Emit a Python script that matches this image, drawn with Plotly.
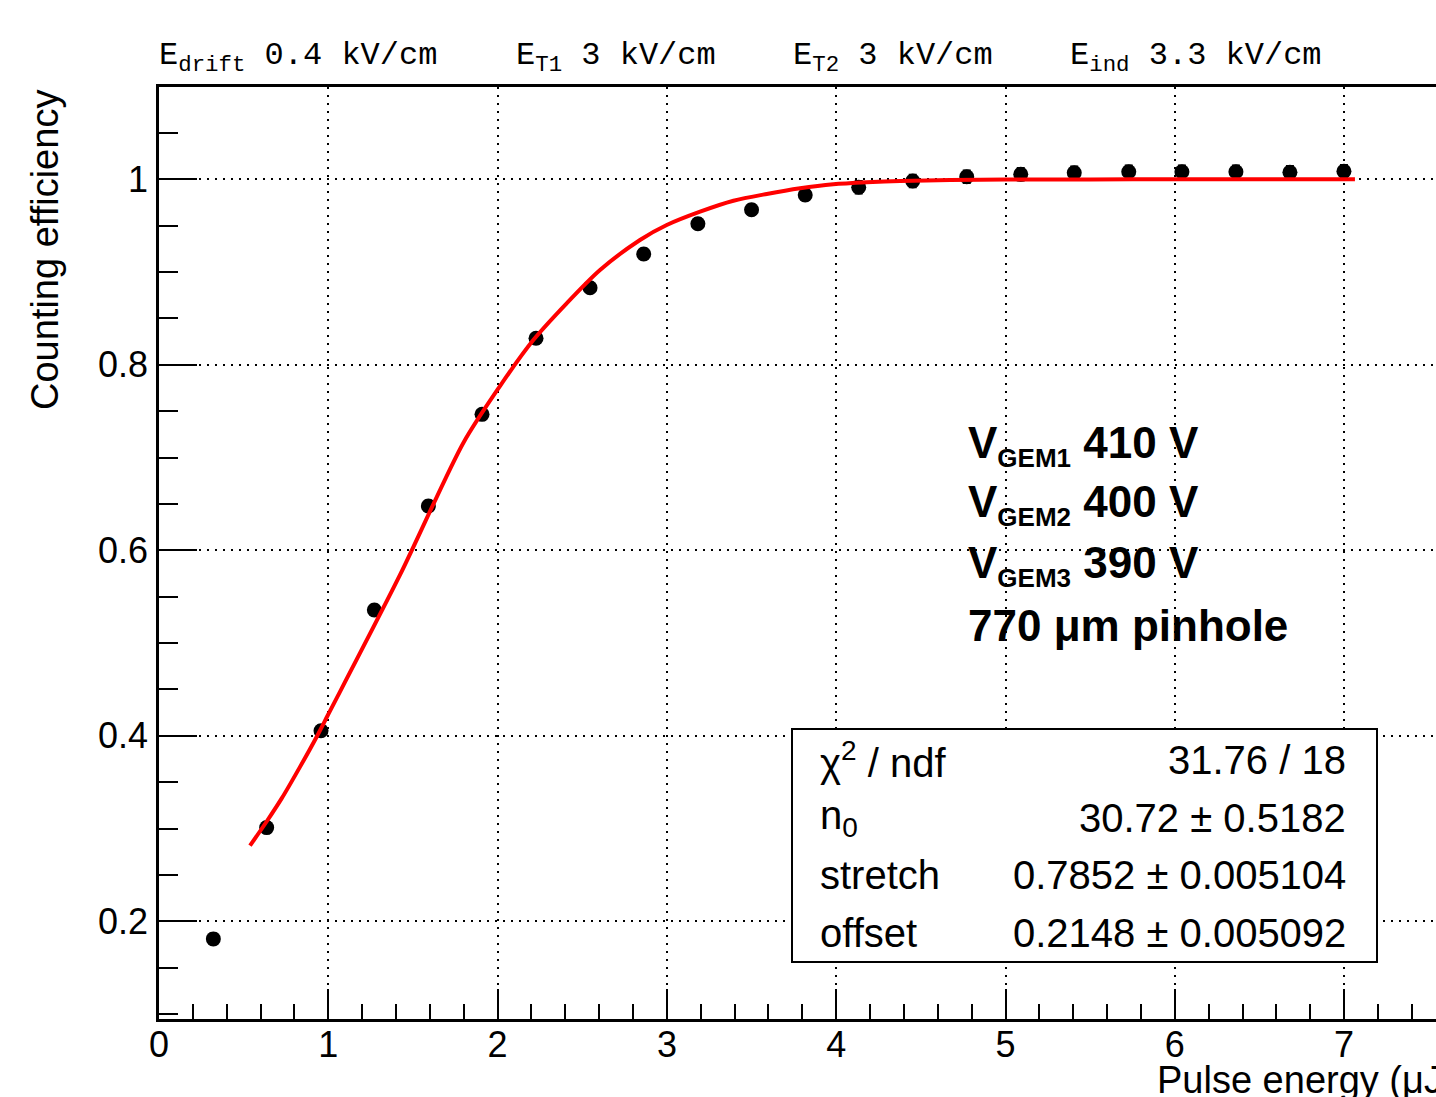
import plotly.graph_objects as go

# ---- data ----
energy = [0.321, 0.636, 0.957, 1.272, 1.591, 1.908, 2.227, 2.546, 2.863, 3.183, 3.500,
          3.817, 4.133, 4.452, 4.771, 5.090, 5.406, 5.728, 6.042, 6.361, 6.680, 6.999]
efficiency = [0.181, 0.301, 0.4055, 0.5356, 0.6478, 0.7466, 0.8286, 0.8831, 0.9195, 0.9521,
              0.9672, 0.9831, 0.9914, 0.9982, 1.0028, 1.0054, 1.0071, 1.0082, 1.0082,
              1.0082, 1.0075, 1.0086]
eff_err = [0.006, 0.006, 0.006, 0.006, 0.006, 0.006, 0.006, 0.006, 0.006, 0.006, 0.006,
           0.006, 0.007, 0.007, 0.007, 0.007, 0.007, 0.007, 0.007, 0.007, 0.007, 0.007]

fit_x = [0.5375, 0.636, 0.7247, 0.8329, 0.93, 1.0, 1.4235, 1.7974, 2.008, 2.211,
         2.408, 2.605, 2.841, 2.999, 3.196, 3.393, 3.59, 3.787, 3.983, 4.18, 4.377, 4.672,
         5.0, 5.5, 6.0, 6.5, 7.064]
fit_y = [0.2815, 0.3076, 0.3325, 0.3665, 0.3985, 0.4232, 0.5734, 0.7158, 0.7755,
         0.8267, 0.8663, 0.9022, 0.9346, 0.9507, 0.9651, 0.9769, 0.9842, 0.9903, 0.9946,
         0.9968, 0.9982, 0.9992, 0.9997, 0.9999, 1.0, 1.0, 1.0]

x_ticks = [0, 1, 2, 3, 4, 5, 6, 7]
x_labels = ["0", "1", "2", "3", "4", "5", "6", "7"]
y_ticks = [0.2, 0.4, 0.6, 0.8, 1.0]
y_labels = ["0.2", "0.4", "0.6", "0.8", "1"]

field_labels = ["E<sub>drift</sub> 0.4 kV/cm", "E<sub>T1</sub> 3 kV/cm",
                "E<sub>T2</sub> 3 kV/cm", "E<sub>ind</sub> 3.3 kV/cm"]
voltage_lines = ["V<sub><span style='font-size:26px'>GEM1</span></sub> 410 V",
                 "V<sub><span style='font-size:26px'>GEM2</span></sub> 400 V",
                 "V<sub><span style='font-size:26px'>GEM3</span></sub> 390 V",
                 "770 \u03bcm pinhole"]
stat_names = ["\u03c7<sup>2</sup> / ndf", "n<sub>0</sub>", "stretch", "offset"]
stat_values = ["31.76 / 18", "30.72 \u00b1 0.5182", "0.7852 \u00b1 0.005104", "0.2148 \u00b1 0.005092"]

# ---- geometry ----
W, H = 1436, 1097
L, R, T, B = 159, 0, 87, 78
PW, PH = W - L - R, H - T - B


def px_x(p):
    return (p - L) / PW


def px_y(p):
    return (H - B - p) / PH


FONT = "Liberation Sans, Arial, Helvetica, sans-serif"
MONO = "Liberation Mono, Courier New, monospace"

fig = go.Figure()
fig.add_trace(go.Scatter(
    x=energy, y=efficiency, mode="markers",
    marker=dict(color="black", size=15),
    error_y=dict(type="data", array=eff_err, color="black", thickness=1.5, width=4),
    showlegend=False, hoverinfo="skip"))
fig.add_trace(go.Scatter(
    x=fit_x, y=fit_y, mode="lines", line=dict(color="red", width=4, shape="spline", smoothing=0.8),
    showlegend=False, hoverinfo="skip"))

axis_common = dict(
    showgrid=True, gridcolor="black", gridwidth=1.6, griddash="2px,6px",
    zeroline=False, showline=True, linecolor="black", linewidth=2.5,
    ticks="inside", tickcolor="black", tickwidth=1.5,
    tickfont=dict(family=FONT, size=36, color="black"),
)
fig.update_xaxes(
    range=[0, PW / 169.3], tickmode="array", tickvals=x_ticks, ticktext=x_labels,
    ticklen=30, mirror=True, ticklabelstandoff=-8,
    minor=dict(ticks="inside", ticklen=15, dtick=0.2, tick0=0, tickcolor="black", tickwidth=1.5, showgrid=False),
    **axis_common)
fig.update_yaxes(
    range=[1.0 - (H - B - 179.3) / 927.5, 1.0 + (179.3 - T) / 927.5],
    tickmode="array", tickvals=y_ticks, ticktext=y_labels,
    ticklen=38, ticklabelstandoff=1,
    minor=dict(ticks="inside", ticklen=19, dtick=0.05, tick0=0, tickcolor="black", tickwidth=1.5, showgrid=False),
    **axis_common)

annotations = []
# axis titles
annotations.append(dict(text="Counting efficiency", xref="paper", yref="paper",
                        x=px_x(45), y=px_y(88), xanchor="center", yanchor="top",
                        textangle=-90, showarrow=False,
                        font=dict(family=FONT, size=38, color="black")))
annotations.append(dict(text="Pulse energy (\u03bcJ)", xref="paper", yref="paper",
                        x=px_x(1155), y=px_y(1080), xanchor="left", yanchor="middle",
                        showarrow=False, font=dict(family=FONT, size=38, color="black")))
# top field labels
for lbl, xp in zip(field_labels, [157, 514, 791, 1068]):
    annotations.append(dict(text=lbl, xref="paper", yref="paper", x=px_x(xp), y=px_y(80),
                            xanchor="left", yanchor="bottom", showarrow=False,
                            font=dict(family=MONO, size=32, color="black")))
# bold voltage text
for i, lbl in enumerate(voltage_lines):
    annotations.append(dict(text="<b>" + lbl + "</b>", xref="paper", yref="paper",
                            x=px_x(966), y=px_y(445 + 60 * i), xanchor="left", yanchor="middle",
                            showarrow=False, font=dict(family=FONT, size=44, color="black")))
# stats box text
for i, (nm, val) in enumerate(zip(stat_names, stat_values)):
    yc = 760 + 57.5 * i
    annotations.append(dict(text=nm, xref="paper", yref="paper", x=px_x(818), y=px_y(yc),
                            xanchor="left", yanchor="middle", showarrow=False,
                            font=dict(family=FONT, size=40, color="black")))
    annotations.append(dict(text=val, xref="paper", yref="paper", x=px_x(1348), y=px_y(yc),
                            xanchor="right", yanchor="middle", showarrow=False,
                            font=dict(family=FONT, size=40, color="black")))

shapes = [dict(type="rect", xref="paper", yref="paper",
               x0=px_x(792), x1=px_x(1377), y0=px_y(962), y1=px_y(729),
               line=dict(color="black", width=2), fillcolor="white", layer="above")]

fig.update_layout(
    width=W, height=H, margin=dict(l=L, r=R, t=T, b=B, pad=0),
    paper_bgcolor="white", plot_bgcolor="white",
    annotations=annotations, shapes=shapes, showlegend=False,
)

fig.write_html("out.html", config={"displayModeBar": False})
